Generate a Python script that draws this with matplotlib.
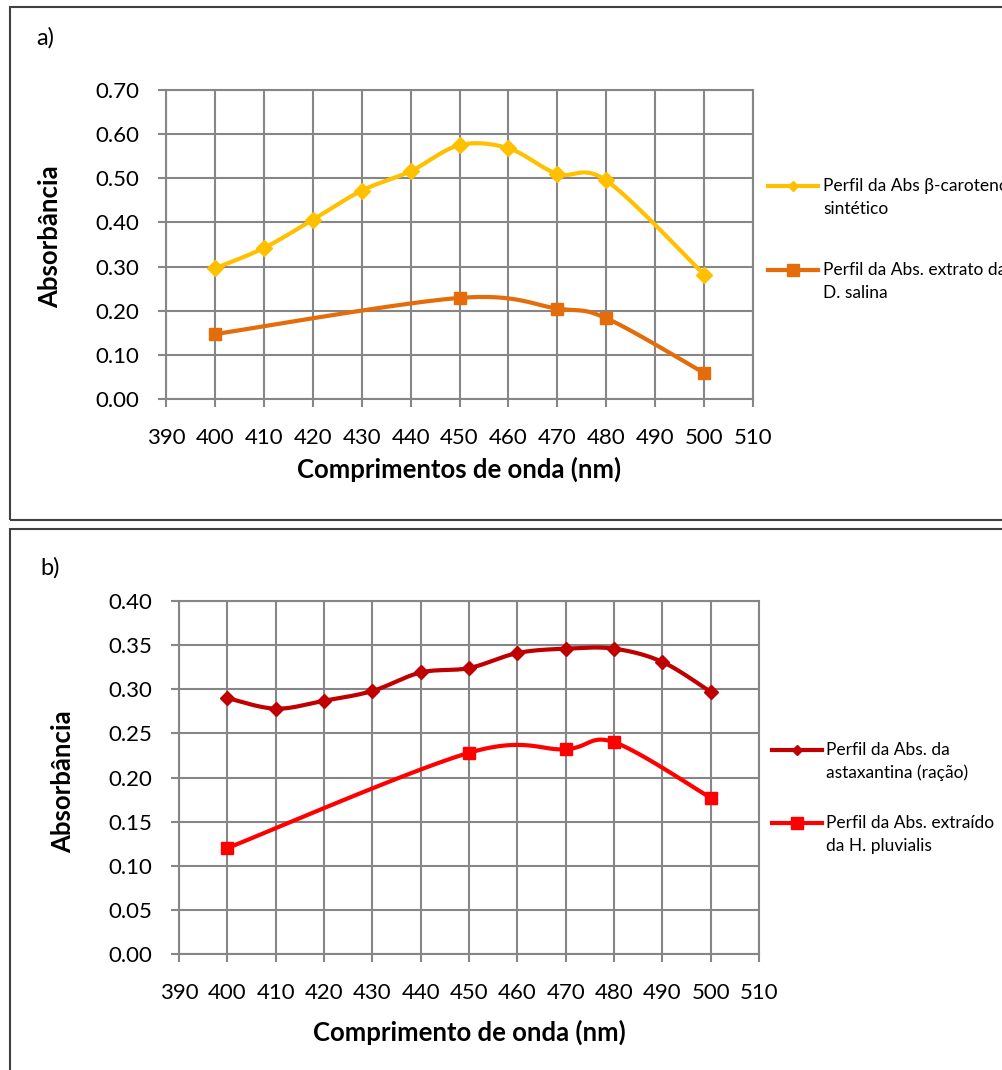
import matplotlib
matplotlib.use("Agg")
import matplotlib.pyplot as plt
import numpy as np
from matplotlib.patches import Rectangle
from matplotlib.lines import Line2D

plt.rcParams['font.family'] = ['Lato', 'DejaVu Sans']

# painel a
wl_beta = [400, 410, 420, 430, 440, 450, 460, 470, 480, 500]
abs_beta = [0.296, 0.342, 0.406, 0.472, 0.516, 0.575, 0.568, 0.510, 0.495, 0.282]
wl_dsal = [400, 450, 470, 480, 500]
abs_dsal = [0.147, 0.229, 0.205, 0.183, 0.059]

# painel b
wl_asta = [400, 410, 420, 430, 440, 450, 460, 470, 480, 490, 500]
abs_asta = [0.290, 0.278, 0.287, 0.298, 0.319, 0.324, 0.341, 0.346, 0.346, 0.331, 0.297]
wl_hpl = [400, 450, 470, 480, 500]
abs_hpl = [0.120, 0.228, 0.232, 0.240, 0.177]

xticks = list(range(390, 520, 10))

W, H = 1002, 1070


def lissage(xs, ys, n=30):
    # courbe lissee facon Excel (bezier type Catmull-Rom)
    pts = np.column_stack([xs, ys]).astype(float)
    out = [pts[0]]
    for i in range(len(pts) - 1):
        p0 = pts[i - 1] if i > 0 else pts[i]
        p1 = pts[i]
        p2 = pts[i + 1]
        p3 = pts[i + 2] if i + 2 < len(pts) else pts[i + 1]
        c1 = p1 + (p2 - p0) / 6
        c2 = p2 - (p3 - p1) / 6
        t = np.linspace(0, 1, n)[1:, None]
        seg = (1 - t) ** 3 * p1 + 3 * (1 - t) ** 2 * t * c1 + 3 * (1 - t) * t ** 2 * c2 + t ** 3 * p2
        out.extend(seg)
    return np.array(out)


def fx(px):
    return px / W


def fy(py):
    return 1 - py / H


def axe(fig, rect, ymax, ystep):
    ax = fig.add_axes(rect)
    ax.set_xlim(390, 510)
    ax.set_ylim(0, ymax)
    ax.set_xticks(xticks)
    ax.set_yticks(np.arange(0, ymax + 1e-9, ystep))
    ax.yaxis.set_major_formatter(matplotlib.ticker.FormatStrFormatter('%.2f'))
    ax.grid(True, color='#868686', linewidth=1.5)
    ax.set_axisbelow(True)
    for s in ax.spines.values():
        s.set_color('#868686')
        s.set_linewidth(1.5)
    ax.tick_params(direction='out', length=6, width=1.5, color='#868686',
                   labelsize=16, labelcolor='black')
    ax.tick_params(axis='x', pad=15)
    ax.tick_params(axis='y', pad=13)
    return ax


def serie(ax, xs, ys, color, marker, ms, lw):
    c = lissage(xs, ys)
    ax.plot(c[:, 0], c[:, 1], color=color, linewidth=lw, solid_capstyle='round', zorder=3)
    ax.plot(xs, ys, linestyle='none', marker=marker, markersize=ms, color=color, zorder=4)


def legende(fig, x0, x1, xt, y, color, marker, ms, lw, lignes):
    fig.add_artist(Line2D([fx(x0), fx(x1)], [fy(y), fy(y)], color=color, linewidth=lw))
    fig.add_artist(Line2D([fx((x0 + x1) / 2)], [fy(y)], marker=marker, markersize=ms, color=color))
    for k, t in enumerate(lignes):
        fig.text(fx(xt), fy(y + 23 * k), t, fontsize=12.5, va='center', ha='left', color='black')


fig = plt.figure(figsize=(W / 100, H / 100), dpi=100)

# cadres
fig.add_artist(Rectangle((fx(10), fy(520)), fx(1100), fy(7) - fy(520), transform=fig.transFigure,
                         fill=False, edgecolor='#404040', linewidth=1.5))
fig.add_artist(Rectangle((fx(10), fy(1075)), fx(1100), fy(529) - fy(1075), transform=fig.transFigure,
                         fill=False, edgecolor='#404040', linewidth=1.5))

# --- a)
ax1 = axe(fig, [fx(166), fy(399), fx(753) - fx(166), fy(90) - fy(399)], 0.70, 0.10)
serie(ax1, wl_beta, abs_beta, '#FFC000', 'D', 8, 3)
serie(ax1, wl_dsal, abs_dsal, '#E46C0A', 's', 9, 3)
ax1.set_xlabel('Comprimentos de onda (nm)', fontsize=18.5, fontweight='bold', labelpad=6)
ax1.set_ylabel('Absorbância', fontsize=18.5, fontweight='bold')
ax1.yaxis.set_label_coords(-0.177, 0.524)
fig.text(fx(36), fy(38), 'a)', fontsize=17, va='center')
legende(fig, 768, 818, 823, 186, '#FFC000', 'D', 5, 3, ['Perfil da Abs β-caroteno', 'sintético'])
legende(fig, 768, 818, 823, 270, '#E46C0A', 's', 8, 3, ['Perfil da Abs. extrato da', 'D. salina'])

# --- b)
ax2 = axe(fig, [fx(179), fy(954), fx(759) - fx(179), fy(601) - fy(954)], 0.40, 0.05)
serie(ax2, wl_asta, abs_asta, '#C00000', 'D', 7, 3)
serie(ax2, wl_hpl, abs_hpl, '#FF0000', 's', 8.5, 3)
ax2.set_xlabel('Comprimento de onda (nm)', fontsize=18.5, fontweight='bold', labelpad=12)
ax2.set_ylabel('Absorbância', fontsize=18.5, fontweight='bold')
ax2.yaxis.set_label_coords(-0.179, 0.487)
fig.text(fx(40), fy(568), 'b)', fontsize=17, va='center')
legende(fig, 772, 822, 826, 750, '#C00000', 'D', 5, 3, ['Perfil da Abs. da', 'astaxantina (ração)'])
legende(fig, 772, 822, 826, 823, '#FF0000', 's', 8, 3, ['Perfil da Abs. extraído', 'da H. pluvialis'])

fig.savefig('out.png', dpi=100)
